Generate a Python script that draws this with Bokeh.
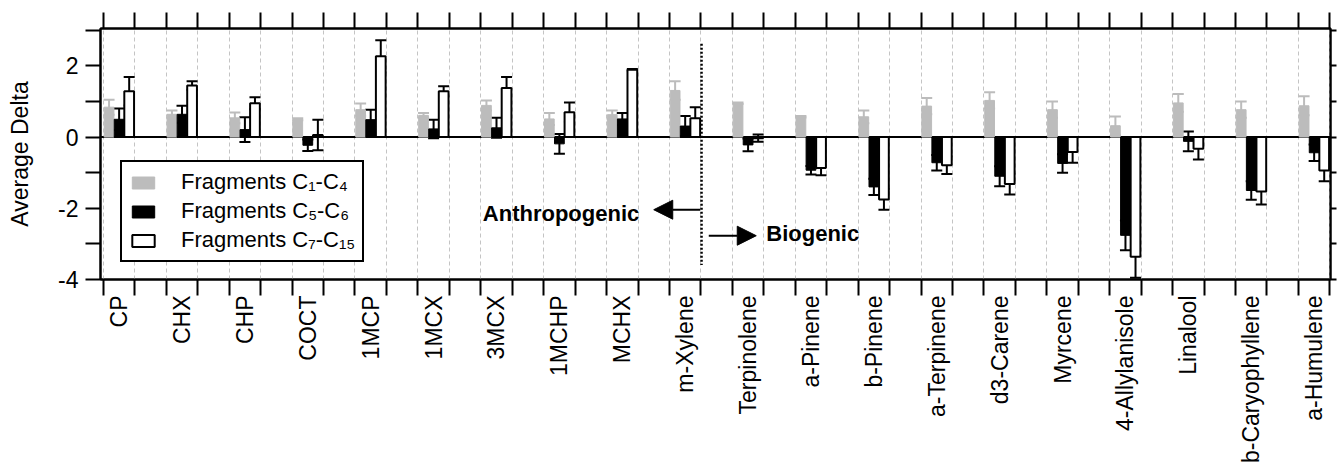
import math
import numpy as np
from bokeh.plotting import figure
from bokeh.models import (Range1d, FixedTicker, LinearAxis, ColumnDataSource, Whisker, TeeHead,
                          Legend, LegendItem, Span, Arrow, NormalHead, Label)
from bokeh.embed import file_html
from bokeh.resources import INLINE

# ---------------- data ----------------
categories = ["CP", "CHX", "CHP", "COCT", "1MCP", "1MCX", "3MCX", "1MCHP", "MCHX", "m-Xylene",
              "Terpinolene", "a-Pinene", "b-Pinene", "a-Terpinene", "d3-Carene", "Myrcene",
              "4-Allylanisole", "Linalool", "b-Caryophyllene", "a-Humulene"]

frag_c1_c4 = [0.84, 0.64, 0.54, 0.50, 0.77, 0.61, 0.89, 0.51, 0.63, 1.31,
              0.95, 0.57, 0.57, 0.87, 1.03, 0.77, 0.32, 0.96, 0.77, 0.88]
frag_c1_c4_err = [0.21, 0.11, 0.15, 0.03, 0.17, 0.07, 0.14, 0.17, 0.12, 0.26,
                  0.02, 0.02, 0.18, 0.23, 0.23, 0.23, 0.26, 0.25, 0.23, 0.27]

frag_c5_c6 = [0.50, 0.64, 0.21, -0.23, 0.49, 0.23, 0.26, -0.19, 0.51, 0.31,
              -0.22, -0.93, -1.40, -0.72, -1.10, -0.74, -2.76, -0.12, -1.50, -0.44]
frag_c5_c6_err = [0.30, 0.24, 0.35, 0.16, 0.28, 0.26, 0.28, 0.28, 0.17, 0.28,
                  0.18, 0.12, 0.23, 0.22, 0.28, 0.26, 0.42, 0.28, 0.26, 0.23]

frag_c7_c15 = [1.29, 1.45, 0.95, 0.06, 2.27, 1.29, 1.38, 0.70, 1.89, 0.53,
               -0.03, -0.87, -1.75, -0.79, -1.32, -0.42, -3.36, -0.33, -1.53, -0.94]
frag_c7_c15_err = [0.40, 0.12, 0.17, 0.43, 0.45, 0.14, 0.31, 0.27, 0.02, 0.31,
                   0.10, 0.20, 0.29, 0.25, 0.29, 0.30, 0.59, 0.30, 0.36, 0.30]

series_labels = ["Fragments C\u2081-C\u2084", "Fragments C\u2085-C\u2086", "Fragments C\u2087-C\u2081\u2085"]
y_major_ticks = [-4, -2, 0, 2]
y_minor_ticks = [-3, -1, 1, 3]

# ---------------- styling ----------------
FONT = "Liberation Sans"
GRAY = "#bcbcbc"
BAR_W = 0.155
OFFSETS = [-0.16, 0.0, 0.16]

n = len(categories)
centers = np.arange(n)
boundaries = sorted([float(c - 0.25) for c in centers] + [float(c + 0.25) for c in centers])

p = figure(width=1337, height=468,
           x_range=Range1d(-0.296, 19.26), y_range=Range1d(-4, 3.05),
           output_backend="svg", toolbar_location=None,
           min_border_left=100, min_border_top=28, min_border_bottom=189, min_border_right=7)
p.background_fill_color = "white"
p.border_fill_color = "white"
p.outline_line_color = "black"
p.outline_line_width = 2

# grid
p.ygrid.visible = False
p.xgrid.ticker = FixedTicker(ticks=boundaries)
p.xgrid.grid_line_color = "#c4c4c4"
p.xgrid.grid_line_dash = "4 3"
p.xgrid.grid_line_width = 1

# zero line
p.add_layout(Span(location=0, dimension="width", line_color="black", line_width=2, level="underlay"))

# bars + error bars
specs = [
    (frag_c1_c4, frag_c1_c4_err, GRAY, GRAY, GRAY),
    (frag_c5_c6, frag_c5_c6_err, "black", "black", "black"),
    (frag_c7_c15, frag_c7_c15_err, "white", "black", "black"),
]
renderers = []
for (vals, errs, fill, line, ecol), off in zip(specs, OFFSETS):
    vals = np.array(vals, dtype=float)
    errs = np.array(errs, dtype=float)
    src = ColumnDataSource(dict(x=centers + off, top=vals,
                                upper=vals + errs, lower=vals - errs))
    r = p.vbar(x="x", top="top", bottom=0, width=BAR_W, source=src,
               fill_color=fill, line_color=line, line_width=2 if fill == "white" else 1)
    renderers.append(r)
    w = Whisker(base="x", upper="upper", lower="lower", source=src, dimension="height",
                line_color=ecol, line_width=2,
                upper_head=TeeHead(size=11, line_color=ecol, line_width=2),
                lower_head=TeeHead(size=11, line_color=ecol, line_width=2))
    p.add_layout(w)

# bottom axis (category labels at centres, ticks at group edges)
xax = p.xaxis[0]
xax.ticker = FixedTicker(ticks=[int(c) for c in centers], minor_ticks=boundaries)
xax.major_label_overrides = {int(i): c for i, c in enumerate(categories)}
xax.major_label_orientation = math.pi / 2
xax.major_tick_out = 0
xax.major_tick_in = 0
xax.minor_tick_out = 16
xax.minor_tick_in = 0
xax.minor_tick_line_width = 2
xax.minor_tick_line_color = "black"
xax.axis_line_width = 2
xax.axis_line_color = "black"
xax.major_label_standoff = 0
xax.major_label_text_font = FONT
xax.major_label_text_font_size = "23px"
xax.major_label_text_color = "black"

# left axis
yax = p.yaxis[0]
yax.ticker = FixedTicker(ticks=y_major_ticks, minor_ticks=y_minor_ticks)
yax.major_label_overrides = {t: str(t) for t in y_major_ticks}
yax.major_tick_out = 15
yax.major_tick_in = 0
yax.minor_tick_out = 15
yax.minor_tick_in = 0
yax.major_tick_line_width = 2
yax.minor_tick_line_width = 2
yax.minor_tick_line_color = "black"
yax.axis_line_width = 2
yax.major_label_standoff = 7
yax.major_label_text_font = FONT
yax.major_label_text_font_size = "23px"
yax.major_label_text_color = "black"
yax.axis_label = "Average Delta"
yax.axis_label_text_font = FONT
yax.axis_label_text_font_size = "23px"
yax.axis_label_text_font_style = "normal"
yax.axis_label_text_color = "black"
yax.axis_label_standoff = 22

# top axis (only tick marks)
top_ax = LinearAxis(ticker=FixedTicker(ticks=[], minor_ticks=boundaries),
                    major_tick_out=0, major_tick_in=0, minor_tick_out=16, minor_tick_in=0,
                    minor_tick_line_width=2, minor_tick_line_color="black",
                    axis_line_width=2, major_label_standoff=0)
p.add_layout(top_ax, "above")

# right axis (only tick marks)
right_ax = LinearAxis(ticker=FixedTicker(ticks=[], minor_ticks=y_major_ticks + y_minor_ticks),
                      major_tick_out=0, major_tick_in=0, minor_tick_out=6, minor_tick_in=0,
                      minor_tick_line_width=2, minor_tick_line_color="black",
                      axis_line_width=2, major_label_standoff=0)
p.add_layout(right_ax, "right")

# anthropogenic / biogenic divider
p.segment(x0=[9.26], y0=[2.62], x1=[9.26], y1=[-3.59], line_color="black",
          line_width=2.5, line_dash="2 2")
p.add_layout(Arrow(x_start=9.24, y_start=-2.04, x_end=8.50, y_end=-2.04, line_width=2,
                   line_color="black",
                   end=NormalHead(size=19, fill_color="black", line_color="black")))
p.add_layout(Arrow(x_start=9.375, y_start=-2.77, x_end=10.13, y_end=-2.77, line_width=2,
                   line_color="black",
                   end=NormalHead(size=19, fill_color="black", line_color="black")))
p.add_layout(Label(x=8.27, y=-2.14, text="Anthropogenic", text_align="right",
                   text_baseline="middle", text_font=FONT, text_font_style="bold",
                   text_font_size="22px", text_color="black"))
p.add_layout(Label(x=10.29, y=-2.70, text="Biogenic", text_align="left",
                   text_baseline="middle", text_font=FONT, text_font_style="bold",
                   text_font_size="22px", text_color="black"))

# legend
legend = Legend(items=[LegendItem(label=lab, renderers=[r]) for lab, r in zip(series_labels, renderers)],
                location=(20, 17), padding=7, spacing=3, glyph_width=28, glyph_height=15,
                label_height=20, label_standoff=24, label_text_font=FONT,
                label_text_font_size="22px", label_text_color="black",
                border_line_color="black", border_line_width=2, border_line_alpha=1.0,
                background_fill_color="white", background_fill_alpha=1.0,
                margin=0)
p.add_layout(legend, "center")

open("out.html", "w").write(file_html(p, INLINE))
